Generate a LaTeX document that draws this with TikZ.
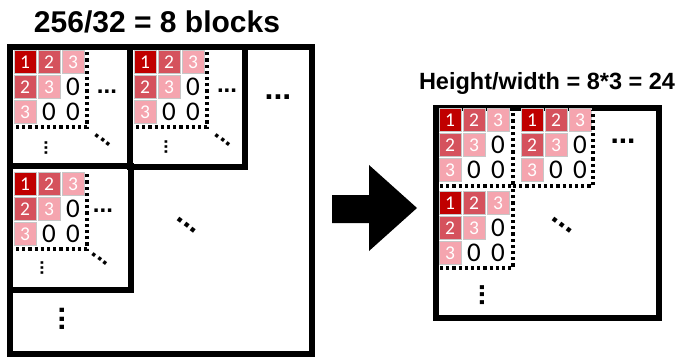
\documentclass[tikz,border=0pt]{standalone}
\usepackage{fontspec}
\setmainfont{Liberation Sans}
\newfontfamily\calf{Carlito}
\definecolor{rA}{HTML}{C00000}
\definecolor{rB}{HTML}{D5525D}
\definecolor{rC}{HTML}{F5A5AF}
\newcommand{\blk}[3]{%
 \node[c1] (#1a) at (#2,#3) {1};
 \node[c2] (#1b) at (#2+24,#3) {2};
 \node[c3] (#1c) at (#2+48,#3) {3};
 \node[c2] (#1d) at (#2,#3+25) {2};
 \node[c3] (#1e) at (#2+24,#3+25) {3};
 \node[zero] (#1f) at (#2+48,#3+25) {0};
 \node[c3] (#1g) at (#2,#3+50) {3};
 \node[zero] (#1h) at (#2+24,#3+50) {0};
 \node[zero] (#1i) at (#2+48,#3+50) {0};
}
\begin{document}
\begin{tikzpicture}[x=1pt,y=-1pt,
  cell/.style={draw=black!22, line width=1pt, minimum width=22pt, minimum height=23.5pt, inner sep=0pt, text=white, font=\calf\fontsize{19.5}{19.5}\selectfont},
  c1/.style={cell, fill=rA},
  c2/.style={cell, fill=rB},
  c3/.style={cell, fill=rC},
  zero/.style={inner sep=0pt, font=\calf\fontsize{27}{27}\selectfont},
  ell/.style={inner sep=0pt, font=\bfseries\fontsize{#1}{#1}\selectfont},
  dotl/.style={line width=3.5pt, dash pattern=on 3.2pt off 3pt},
  frame/.style={line width=5.5pt},
  ttl/.style={inner sep=0pt, font=\bfseries\fontsize{#1}{#1}\selectfont}]
\useasboundingbox (0,0) rectangle (679,358);
\fill[white] (0,0) rectangle (679,358);

% titles
\node[ttl=30] (t1) at (157,22) {256/32 = 8 blocks};
\node[ttl=23.5] (t2) at (547,83) {Height/width = 8*3 = 24};

% left frames
\draw[frame] (10,47) rectangle (312,354);
\draw[frame] (10,47) rectangle (130,166);
\draw[frame] (130,47) rectangle (245,167);
\draw[frame] (10,166) rectangle (131,290);

% left blocks
\blk{la}{25}{62}
\blk{lb}{145}{62}
\blk{lc}{25}{184}
\draw[dotl] (16,127) -| (87,52);
\draw[dotl] (136,127) -| (207,52);
\draw[dotl] (16,249) -| (87,174);

\node[ell=24] (la1) at (107,92) {...};
\node[ell=18, rotate=90] (la2) at (46,148) {...};
\node[ell=24, rotate=-37] (la3) at (103,140) {...};
\node[ell=24] (lb1) at (227,91) {...};
\node[ell=18, rotate=90] (lb2) at (166,147) {...};
\node[ell=24, rotate=-37] (lb3) at (223,140) {...};
\node[ell=24] (lc1) at (103,211) {...};
\node[ell=18, rotate=90] (lc2) at (42,268) {...};
\node[ell=24, rotate=-37] (lc3) at (100,259) {...};
\node[ell=32] (lm1) at (278,97) {...};
\node[ell=30, rotate=-37] (lm2) at (187,225) {...};
\node[ell=30, rotate=90] (lm3) at (62,319) {...};

% arrow
\fill (332,195) -- (369,195) -- (369,165) -- (417,208) -- (369,251) -- (369,223) -- (332,223) -- cycle;

% right frame
\draw[frame] (436,108) rectangle (659,318);
\blk{ra}{450}{120}
\blk{rb}{532}{120}
\blk{rc}{450}{203}
\draw[dotl] (440,186) -| (513,110);
\draw[dotl] (513,186) -| (593,110);
\draw[dotl] (440,268) -| (513,186);
\node[ell=30] (r1) at (623,141) {...};
\node[ell=30, rotate=-37] (r2) at (562,225) {...};
\node[ell=28, rotate=90] (r3) at (482,295) {...};
\end{tikzpicture}
\end{document}
